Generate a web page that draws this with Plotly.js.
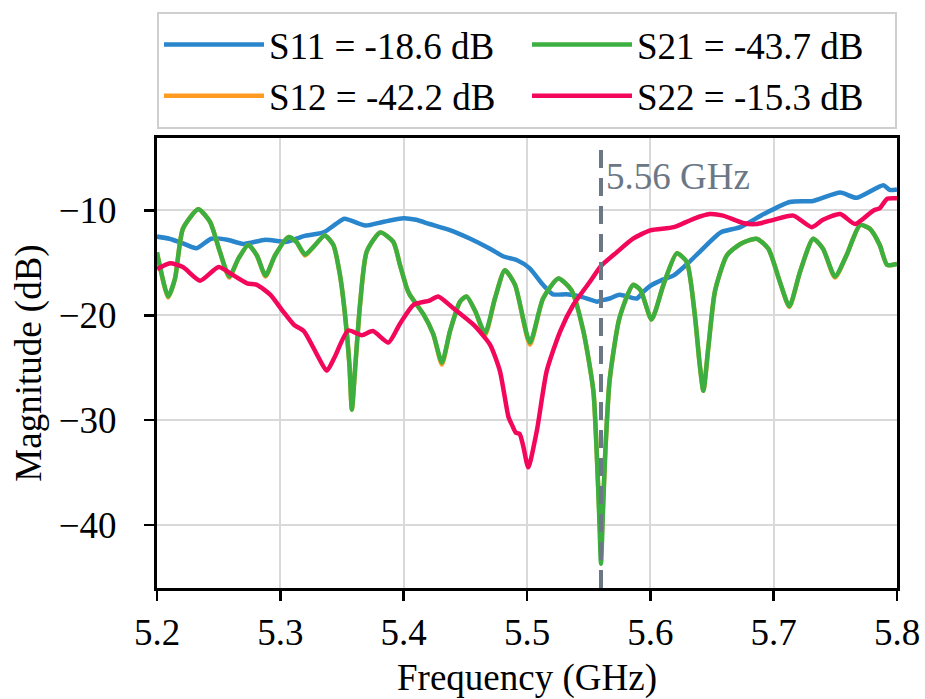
<!DOCTYPE html>
<html>
<head>
<meta charset="utf-8">
<script src="https://cdn.plot.ly/plotly-3.0.1.min.js"></script>
<style>html,body{margin:0;padding:0;background:#fff;}#chart{width:925px;height:699px;}</style>
</head>
<body>
<div id="chart"></div>
<script>
// ---- data ----
const s11Freq = [5.200,5.210,5.220,5.232,5.244,5.257,5.270,5.288,5.305,5.319,5.335,5.345,5.352,5.369,5.383,5.400,5.410,5.421,5.438,5.454,5.470,5.481,5.492,5.502,5.513,5.521,5.532,5.543,5.557,5.560,5.567,5.575,5.589,5.594,5.600,5.610,5.619,5.630,5.640,5.657,5.673,5.692,5.713,5.732,5.754,5.767,5.789,5.794,5.800];
const s11Mag  = [-12.5,-12.7,-13.1,-13.6,-12.7,-12.8,-13.2,-12.8,-13.0,-12.45,-12.1,-11.3,-10.8,-11.45,-11.1,-10.75,-10.9,-11.3,-11.9,-12.7,-13.65,-14.4,-14.75,-15.5,-17.1,-18.0,-18.0,-18.2,-18.7,-18.6,-18.4,-18.05,-18.4,-17.8,-17.2,-16.6,-16.2,-15.1,-13.95,-12.1,-11.6,-10.35,-9.2,-9.1,-8.3,-8.8,-7.6,-8.05,-8.0];

const s21Freq = [5.200,5.201,5.209,5.2146,5.221,5.2335,5.243,5.251,5.2586,5.266,5.274,5.281,5.288,5.2957,5.3065,5.313,5.320,5.3267,5.336,5.343,5.3484,5.3524,5.356,5.358,5.3605,5.3646,5.370,5.381,5.3916,5.397,5.4025,5.405,5.416,5.424,5.431,5.4376,5.4457,5.451,5.458,5.466,5.474,5.482,5.4903,5.5024,5.513,5.5254,5.536,5.5457,5.5538,5.5565,5.5585,5.560,5.5615,5.5635,5.567,5.575,5.586,5.592,5.601,5.6106,5.6214,5.6295,5.636,5.640,5.643,5.647,5.6524,5.662,5.673,5.686,5.6957,5.705,5.7127,5.7214,5.732,5.740,5.7497,5.759,5.770,5.778,5.786,5.792,5.800];
const s21Mag  = [-14.0,-14.6,-18.2,-16.5,-11.75,-9.9,-11.1,-13.95,-16.3,-14.6,-13.3,-14.3,-16.2,-14.3,-12.55,-13.0,-14.2,-13.5,-12.4,-13.3,-16.2,-19.9,-24.65,-29.0,-25.3,-19.0,-13.95,-12.1,-13.0,-15.2,-17.4,-18.05,-19.9,-21.8,-24.5,-21.5,-18.7,-18.2,-19.6,-21.7,-18.4,-15.7,-17.1,-22.6,-18.4,-16.5,-17.6,-21.5,-27.2,-33.0,-39.0,-43.7,-39.0,-33.0,-26.2,-20.25,-17.1,-17.6,-20.4,-17.1,-14.1,-14.9,-19.9,-24.65,-27.2,-23.1,-17.7,-14.3,-13.2,-12.7,-13.65,-16.8,-19.15,-15.85,-12.7,-13.65,-16.3,-14.3,-11.4,-11.75,-13.3,-15.2,-15.1];

const s12Freq = [5.200,5.201,5.209,5.2146,5.221,5.2335,5.243,5.251,5.2586,5.266,5.274,5.281,5.288,5.2957,5.3065,5.313,5.320,5.3267,5.336,5.343,5.3484,5.3524,5.356,5.358,5.3605,5.3646,5.370,5.381,5.3916,5.397,5.4025,5.405,5.416,5.424,5.431,5.4376,5.4457,5.451,5.458,5.466,5.474,5.482,5.4903,5.5024,5.513,5.5254,5.536,5.5457,5.5538,5.5565,5.5585,5.560,5.5615,5.5635,5.567,5.575,5.586,5.592,5.601,5.6106,5.6214,5.6295,5.636,5.640,5.643,5.647,5.6524,5.662,5.673,5.686,5.6957,5.705,5.7127,5.7214,5.732,5.740,5.7497,5.759,5.770,5.778,5.786,5.792,5.800];
const s12Mag  = [-14.0,-14.6,-18.3,-16.5,-11.75,-9.9,-11.1,-13.95,-16.4,-14.6,-13.3,-14.3,-16.3,-14.3,-12.55,-13.0,-14.3,-13.5,-12.4,-13.3,-16.2,-19.9,-24.7,-29.0,-25.3,-19.0,-13.95,-12.1,-13.0,-15.2,-17.4,-18.05,-19.9,-21.8,-24.7,-21.5,-18.7,-18.2,-19.6,-21.9,-18.4,-15.7,-17.1,-22.8,-18.4,-16.5,-17.6,-21.5,-27.2,-33.0,-38.5,-42.2,-38.5,-33.0,-26.2,-20.25,-17.1,-17.6,-20.4,-17.1,-14.1,-14.9,-19.9,-24.65,-27.2,-23.1,-17.7,-14.3,-13.2,-12.7,-13.65,-16.8,-19.2,-15.85,-12.7,-13.65,-16.4,-14.3,-11.4,-11.75,-13.3,-15.2,-15.1];

const s22Freq = [5.200,5.2105,5.221,5.235,5.250,5.262,5.273,5.281,5.292,5.302,5.311,5.319,5.3295,5.3376,5.344,5.355,5.366,5.375,5.3876,5.397,5.408,5.421,5.428,5.440,5.4566,5.470,5.478,5.485,5.488,5.491,5.494,5.497,5.501,5.508,5.516,5.527,5.5376,5.551,5.560,5.5727,5.586,5.600,5.619,5.635,5.648,5.659,5.675,5.686,5.700,5.716,5.731,5.740,5.754,5.766,5.781,5.786,5.792,5.800];
const s22Mag  = [-15.6,-15.05,-15.4,-16.7,-15.4,-16.2,-16.95,-17.1,-18.05,-19.6,-20.9,-21.5,-23.7,-25.3,-24.0,-21.45,-21.9,-21.5,-22.6,-20.8,-19.0,-18.6,-18.2,-19.3,-20.9,-22.8,-25.3,-29.7,-30.5,-31.2,-31.3,-32.5,-34.5,-31.0,-25.3,-21.5,-19.0,-16.8,-15.3,-14.0,-12.7,-11.9,-11.6,-10.8,-10.35,-10.5,-11.2,-11.3,-10.9,-10.5,-11.6,-10.9,-10.35,-11.3,-10.0,-9.8,-8.9,-8.85];

const seriesNames = ['S11 = -18.6 dB','S12 = -42.2 dB','S21 = -43.7 dB','S22 = -15.3 dB'];
const markerFreq = 5.56;
const markerLabel = '5.56 GHz';
const xTickVals = [5.2,5.3,5.4,5.5,5.6,5.7,5.8];
const xTickText = ['5.2','5.3','5.4','5.5','5.6','5.7','5.8'];
const yTickVals = [-40,-30,-20,-10];
const yTickText = ['\u221240','\u221230','\u221220','\u221210'];

// ---- styling ----
const FONT = "'Liberation Serif', 'Times New Roman', serif";
const FS = 37;
const colors = {s11:'#2986cc', s12:'#ff9b21', s21:'#3bb040', s22:'#f2075a'};
const lw = 4.5;
const ln = (c) => ({color:c, width:lw, shape:'spline', smoothing:0.6});

const traces = [
  {x:s11Freq, y:s11Mag, name:seriesNames[0], legendrank:1, mode:'lines', line:ln(colors.s11)},
  {x:s12Freq, y:s12Mag, name:seriesNames[1], legendrank:3, mode:'lines', line:ln(colors.s12)},
  {x:s21Freq, y:s21Mag, name:seriesNames[2], legendrank:2, mode:'lines', line:ln(colors.s21)},
  {x:s22Freq, y:s22Mag, name:seriesNames[3], legendrank:4, mode:'lines', line:ln(colors.s22)}
];

const layout = {
  width:925, height:699,
  margin:{l:157, r:28, t:135, b:111},
  paper_bgcolor:'#ffffff', plot_bgcolor:'#ffffff',
  font:{family:FONT, size:FS, color:'#000'},
  showlegend:true,
  legend:{
    orientation:'h', x:0, xanchor:'left', y:1.02, yanchor:'bottom',
    bgcolor:'#ffffff', bordercolor:'#cfcfcf', borderwidth:2,
    font:{family:FONT, size:FS, color:'#000'},
    itemwidth:100,
    entrywidth:253, entrywidthmode:'pixels', traceorder:'normal'
  },
  xaxis:{
    range:[5.2,5.8], tickvals:xTickVals, ticktext:xTickText,
    showgrid:true, gridcolor:'#d9d9d9', gridwidth:2,
    showline:true, linecolor:'#000', linewidth:3, mirror:true,
    ticks:'outside', ticklen:10, tickwidth:2.5, tickcolor:'#000',
    zeroline:false,
    tickfont:{family:FONT, size:FS, color:'#000'},
    title:{text:'Frequency (GHz)', font:{family:FONT, size:FS, color:'#000'}, standoff:14}
  },
  yaxis:{
    range:[-46.0,-3.1], tickvals:yTickVals, ticktext:yTickText,
    showgrid:true, gridcolor:'#d9d9d9', gridwidth:2,
    showline:true, linecolor:'#000', linewidth:3, mirror:true,
    ticks:'outside', ticklen:10, tickwidth:2.5, tickcolor:'#000',
    ticklabelstandoff:20,
    zeroline:false,
    tickfont:{family:FONT, size:FS, color:'#000'},
    title:{text:'Magnitude (dB)', font:{family:FONT, size:FS, color:'#000'}, standoff:6}
  },
  shapes:[{
    type:'line', xref:'x', yref:'paper', x0:markerFreq, x1:markerFreq, y0:0, y1:0.978,
    layer:'above', line:{color:'#6b7785', width:4, dash:'18px,10px'}
  }],
  annotations:[{
    x:markerFreq, y:-6.8, xref:'x', yref:'y', text:markerLabel, showarrow:false,
    xanchor:'left', yanchor:'middle', xshift:3,
    font:{family:FONT, size:FS, color:'#6b7785'}
  }]
};

Plotly.newPlot('chart', traces, layout, {displayModeBar:false, staticPlot:true});
</script>
</body>
</html>
